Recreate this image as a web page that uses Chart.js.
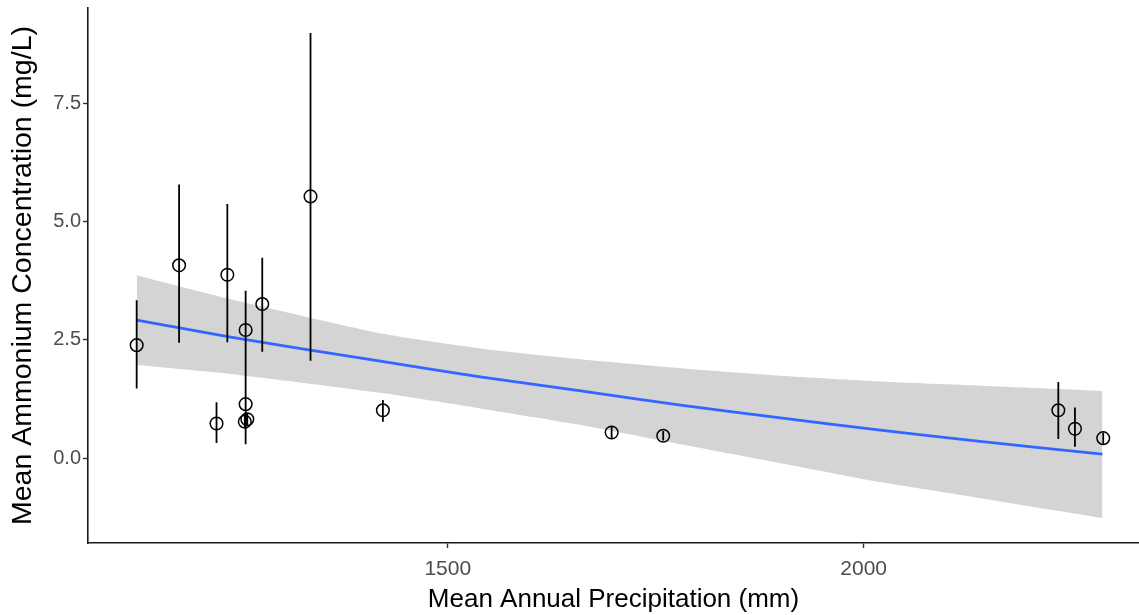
<!DOCTYPE html>
<html>
<head>
<meta charset="utf-8">
<script src="https://cdn.jsdelivr.net/npm/chart.js@4.4.1/dist/chart.umd.min.js"></script>
<style>
  html, body { margin: 0; padding: 0; background: #ffffff; }
  #wrap { width: 1139px; height: 615px; position: relative; }
</style>
</head>
<body>
<div id="wrap"><canvas id="chart"></canvas></div>
<script>
// Site means: mean annual precipitation (mm) and mean ammonium (mg/L) with error bar limits
const precip   = [1126, 1177, 1222, 1235, 1256, 1257, 1257, 1259, 1277, 1335, 1422, 1697, 1759, 2234, 2254, 2288];
const ammonium = [2.39, 4.08, 0.73, 3.88, 0.77, 2.71, 1.14, 0.82, 3.26, 5.54, 1.01, 0.54, 0.47, 1.01, 0.62, 0.42];
const errLow   = [1.47, 2.44, 0.32, 2.45, 0.65, 1.88, 0.29, 0.70, 2.25, 2.06, 0.77, 0.42, 0.37, 0.40, 0.24, 0.30];
const errHigh  = [3.34, 5.79, 1.18, 5.38, 0.90, 3.54, 1.99, 0.95, 4.24, 9.00, 1.23, 0.68, 0.57, 1.61, 1.07, 0.54];

// Fitted trend with its confidence band
const fitX     = [1126, 1239, 1419, 1539, 1660, 1780, 1900, 2020, 2140, 2287];
const fitY     = [2.92, 2.56, 2.05, 1.72, 1.42, 1.12, 0.85, 0.59, 0.35, 0.08];
const fitUpper = [3.87, 3.36, 2.64, 2.32, 2.09, 1.90, 1.74, 1.62, 1.53, 1.42];
const fitLower = [1.97, 1.78, 1.38, 1.05, 0.70, 0.29, -0.11, -0.51, -0.85, -1.27];

// Axis ticks and range
const xTicks = [1500, 2000];
const yTicks = [0, 2.5, 5, 7.5];
const xRange = [1067.5, 2331];
const yRange = [-1.80, 9.53];

const toXY = (xs, ys) => xs.map((x, i) => ({ x: x, y: ys[i] }));

// Error bars as one broken polyline: low -> high, then a gap
const errSegments = [];
precip.forEach((x, i) => {
  errSegments.push({ x: x, y: errLow[i] });
  errSegments.push({ x: x, y: errHigh[i] });
  errSegments.push({ x: x, y: null });
});

const FONT = "'Liberation Sans', Arial, sans-serif";

new Chart(document.getElementById('chart'), {
  type: 'scatter',
  data: {
    datasets: [
      {
        label: 'upper',
        data: toXY(fitX, fitUpper),
        showLine: true,
        borderColor: 'rgba(0,0,0,0)',
        borderWidth: 0,
        pointRadius: 0,
        backgroundColor: '#d4d4d4',
        fill: '+1',
        tension: 0.2,
        order: 6
      },
      {
        label: 'lower',
        data: toXY(fitX, fitLower),
        showLine: true,
        borderColor: 'rgba(0,0,0,0)',
        borderWidth: 0,
        pointRadius: 0,
        fill: false,
        tension: 0.2,
        order: 5
      },
      {
        label: 'trend',
        data: toXY(fitX, fitY),
        showLine: true,
        borderColor: '#3366ff',
        borderWidth: 2.8,
        pointRadius: 0,
        fill: false,
        tension: 0.2,
        order: 4
      },
      {
        label: 'error',
        data: errSegments,
        showLine: true,
        spanGaps: false,
        borderColor: '#000000',
        borderWidth: 1.8,
        pointRadius: 0,
        fill: false,
        order: 3
      },
      {
        label: 'sites',
        data: toXY(precip, ammonium),
        showLine: false,
        pointStyle: 'circle',
        pointRadius: 6.3,
        pointBorderWidth: 1.5,
        pointBorderColor: '#000000',
        pointBackgroundColor: 'rgba(0,0,0,0)',
        order: 1
      }
    ]
  },
  options: {
    responsive: true,
    maintainAspectRatio: false,
    animation: false,
    devicePixelRatio: 1,
    layout: { autoPadding: false, padding: { top: 8, right: 0, bottom: 0, left: 0 } },
    plugins: {
      legend: { display: false },
      tooltip: { enabled: false }
    },
    scales: {
      x: {
        type: 'linear',
        min: xRange[0],
        max: xRange[1],
        afterBuildTicks: (s) => { s.ticks = xTicks.map(v => ({ value: v })); },
        afterFit: (s) => { s.height = 72; s.paddingLeft = 0; s.paddingRight = 0; },
        grid: { display: true, drawOnChartArea: false, drawTicks: true, tickLength: 5, tickWidth: 1.4, tickColor: '#333333' },
        border: { display: true, color: '#1a1a1a', width: 1.6 },
        ticks: {
          color: '#4d4d4d',
          font: { family: FONT, size: 21 },
          padding: 9,
          maxRotation: 0,
          callback: (v) => String(v)
        },
        title: {
          display: true,
          text: 'Mean Annual Precipitation (mm)',
          color: '#000000',
          font: { family: FONT, size: 26 },
          padding: { top: 0, bottom: 0 }
        }
      },
      y: {
        type: 'linear',
        min: yRange[0],
        max: yRange[1],
        afterBuildTicks: (s) => { s.ticks = yTicks.map(v => ({ value: v })); },
        afterFit: (s) => { s.width = 88; s.paddingTop = 0; s.paddingBottom = 0; },
        grid: { display: true, drawOnChartArea: false, drawTicks: true, tickLength: 5, tickWidth: 1.4, tickColor: '#333333' },
        border: { display: true, color: '#1a1a1a', width: 1.6 },
        ticks: {
          color: '#4d4d4d',
          font: { family: FONT, size: 20 },
          padding: 2,
          callback: (v) => Number(v).toFixed(1)
        },
        title: {
          display: true,
          text: 'Mean Ammonium Concentration (mg/L)',
          color: '#000000',
          font: { family: FONT, size: 28.5 },
          padding: { top: 6, bottom: 0 }
        }
      }
    }
  }
});
</script>
</body>
</html>
